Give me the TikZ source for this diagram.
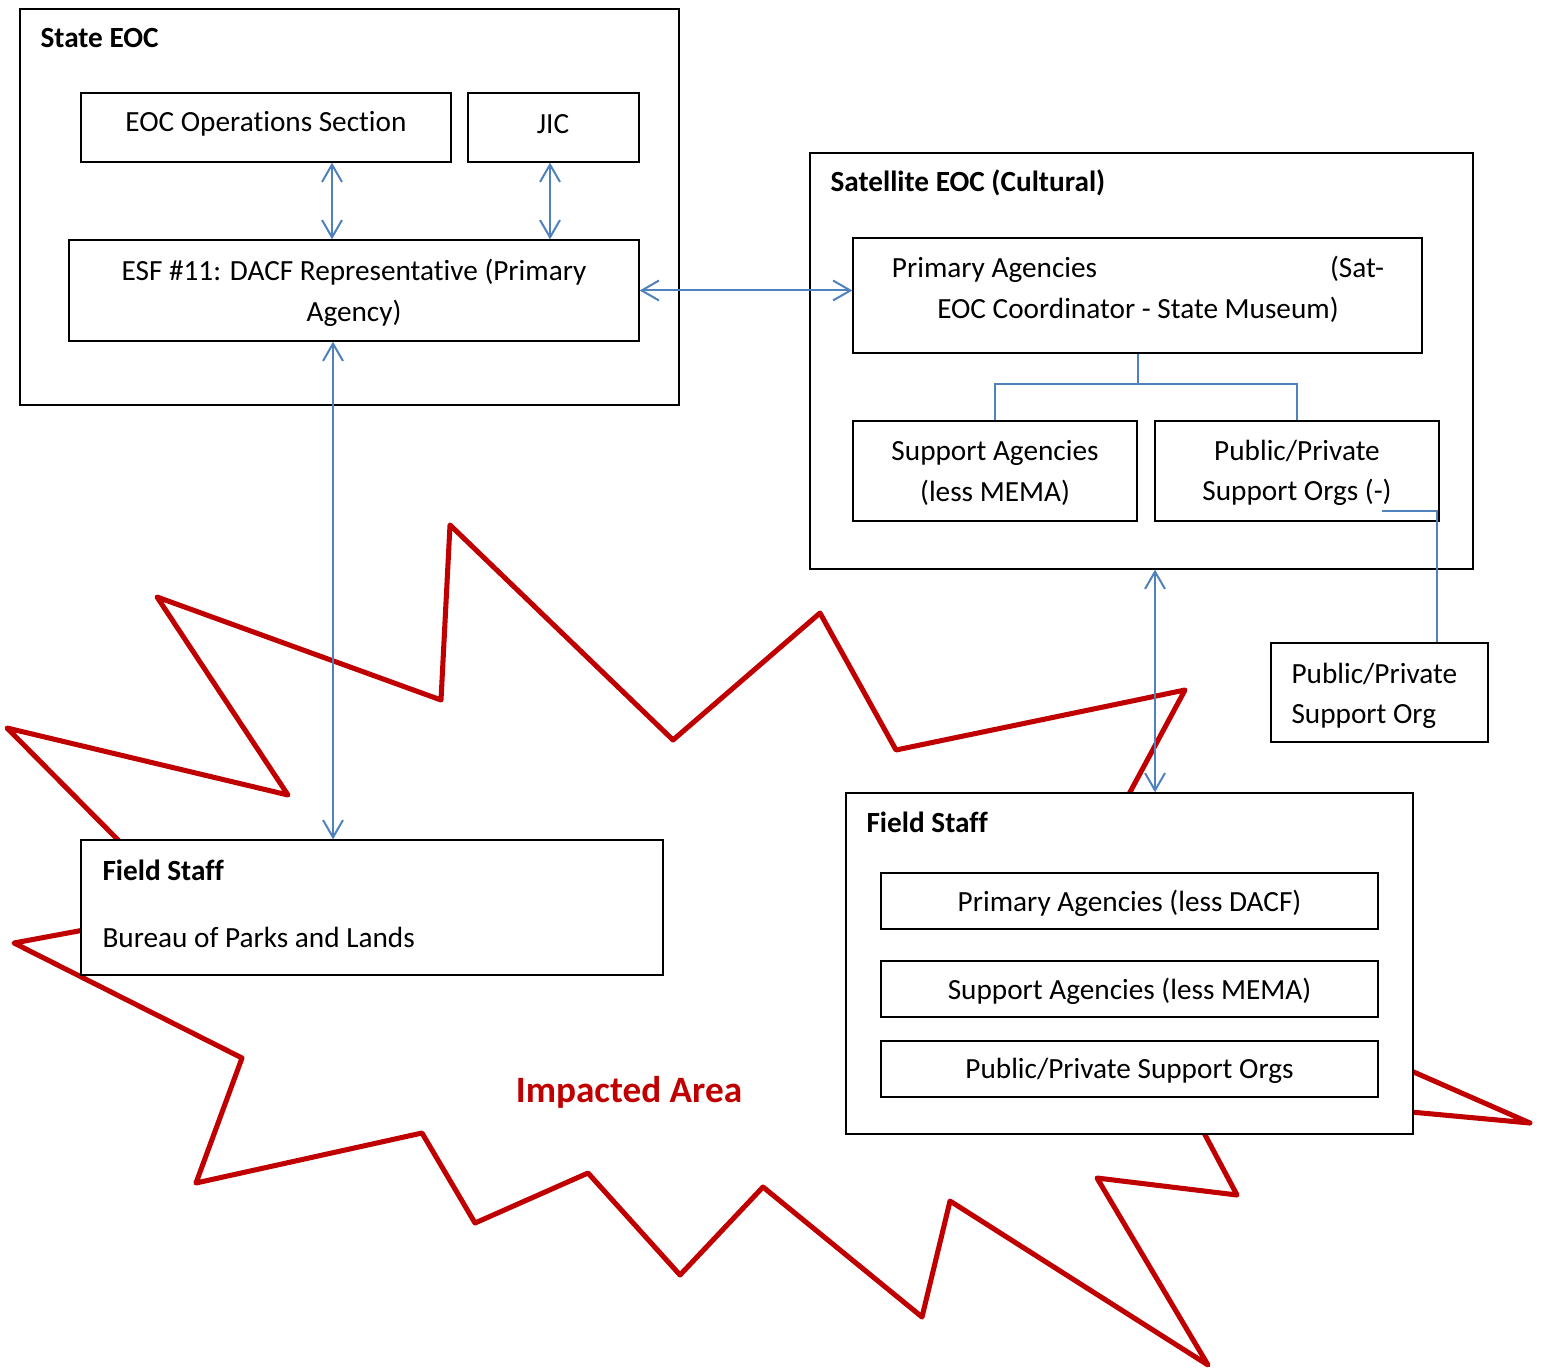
\documentclass[tikz,border=0pt]{standalone}
\usepackage{fontspec}
\setmainfont[Ligatures=NoCommon]{Carlito}
\usetikzlibrary{arrows.meta,fit}
\definecolor{linkblue}{RGB}{79,129,189}
\definecolor{burstred}{RGB}{192,0,0}

\begin{document}
\begin{tikzpicture}[x=0.01322cm,y=-0.01322cm,
  box/.style={draw=black, line width=.5pt, fill=white, inner sep=0pt},
  txt/.style={inner sep=0pt, align=center, yshift=-.7pt, font=\fontsize{11}{15.4}\selectfont},
  title/.style={inner sep=0pt, font=\fontsize{11}{15.4}\selectfont\bfseries},
  impact/.style={inner sep=0pt, text=burstred, font=\fontsize{14}{17}\selectfont\bfseries},
  link/.style={draw=linkblue, line width=.75pt},
  biarrow/.style={link, {Straight Barb[length=6.5pt,width=7.5pt]}-{Straight Barb[length=6.5pt,width=7.5pt]}},
  burst/.style={draw=burstred, line width=1.9pt, line join=round}]

\useasboundingbox (0,0) rectangle (1543,1368);

% impacted area
\draw[burst] (450,525) -- (673,740) -- (820,613) -- (896,750) -- (1185,690)
  -- (1115,820) -- (1400,1066) -- (1530,1123) -- (1400,1111) -- (1195,1116)
  -- (1237,1195) -- (1097,1178) -- (1208,1365) -- (950,1201) -- (922,1317)
  -- (763,1187) -- (680,1275) -- (588,1173) -- (475,1223) -- (422,1133)
  -- (196,1183) -- (242,1058) -- (14,943) -- (100,927) -- (130,852)
  -- (7,728) -- (288,795) -- (157,597) -- (441,700) -- cycle;
\node[impact] (impact) at (629,1092) {Impacted Area};

% state EOC
\node[box, fit={(20,9) (679,405)}] (state) {};
\node[title, anchor=base west] (statetitle) at (40,47.5) {State EOC};
\node[box, fit={(81,93) (451,162)}] (ops) {};
\node[txt] (opstext) at (266,122) {EOC Operations Section};
\node[box, fit={(468,93) (639,162)}] (jic) {};
\node[txt] (jictext) at (553,122) {JIC};
\node[box, fit={(69,240) (639,341)}] (esf) {};
\node[txt] (esftext) at (esf.center) {ESF \#11: DACF Representative (Primary\\Agency)};

% satellite EOC
\node[box, fit={(810,153) (1473,569)}] (sat) {};
\node[title, anchor=base west] (sattitle) at (830,191.5) {Satellite EOC (Cultural)};
\node[box, fit={(853,238) (1422,353)}] (prim) {};
\node[txt] (primtext) at (1138,287) {\makebox[185pt]{Primary Agencies\hfill(Sat-}\\EOC Coordinator - State Museum)};
\node[box, fit={(853,421) (1137,521)}] (supp) {};
\node[txt] (supptext) at (supp.center) {Support Agencies\\(less MEMA)};
\node[box, fit={(1155,421) (1439,521)}] (ppsat) {};
\node[txt] (ppsattext) at (ppsat.center) {Public/Private\\Support Orgs (-)};
\node[box, fit={(1271,643) (1488,742)}] (pporg) {};
\node[txt, anchor=west, align=left] (pporgtext) at (1291,694) {Public/Private\\Support Org};

% field staff
\node[box, fit={(81,840) (663,975)}] (fieldl) {};
\node[title, anchor=base west] (fieldltitle) at (102,880) {Field Staff};
\node[txt, anchor=base west, yshift=.7pt] (fieldltext) at (102,947) {Bureau of Parks and Lands};
\node[box, fit={(846,793) (1413,1134)}] (fieldr) {};
\node[title, anchor=base west] (fieldrtitle) at (866,832) {Field Staff};
\node[box, fit={(881,873) (1378,929)}] (fprim) {};
\node[txt] (fprimtext) at (fprim.center) {Primary Agencies (less DACF)};
\node[box, fit={(881,961) (1378,1017)}] (fsupp) {};
\node[txt] (fsupptext) at (fsupp.center) {Support Agencies (less MEMA)};
\node[box, fit={(881,1041) (1378,1097)}] (fpp) {};
\node[txt] (fpptext) at (fpp.center) {Public/Private Support Orgs};

% connectors
\coordinate (xops) at (332,0);
\coordinate (xjic) at (550,0);
\coordinate (xesf) at (333,0);
\coordinate (xsat) at (1155,0);
\coordinate (xtail) at (1437,0);
\coordinate (tail) at (1382,511);

\draw[biarrow] (ops.south -| xops) -- (esf.north -| xops);
\draw[biarrow] (jic.south -| xjic) -- (esf.north -| xjic);
\draw[biarrow] (esf.east) -- (esf.east -| prim.west);
\draw[biarrow] (esf.south -| xesf) -- (fieldl.north -| xesf);
\draw[biarrow] (sat.south -| xsat) -- (fieldr.north -| xsat);
\draw[link] (prim.south) -- ++(0,30) coordinate (fork);
\draw[link] (supp.north) |- (fork) -| (ppsat.north);
\draw[link] (tail) -| (xtail |- pporg.north);
\end{tikzpicture}
\end{document}
